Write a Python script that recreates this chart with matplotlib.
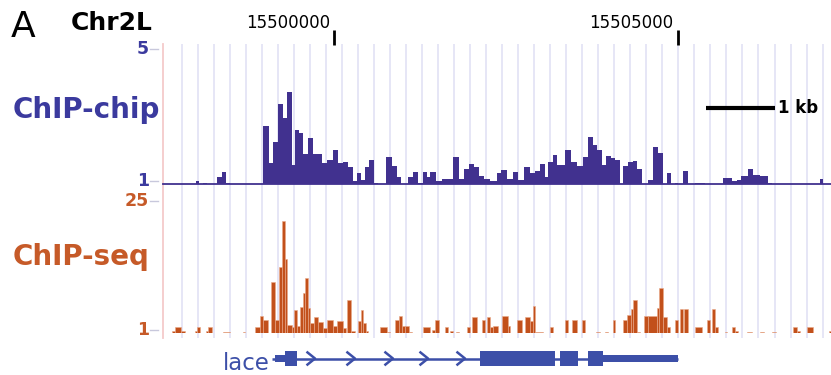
import matplotlib
matplotlib.use('Agg')
import matplotlib.pyplot as plt
import matplotlib.transforms as mtransforms

# ---------------- data (bp relative to chr2L:15,500,000) ----------------
ORIGIN = 15500000
chrom = "Chr2L"
view_start, view_end = -2488, 7231
axis_ticks = [0, 5000]
axis_tick_labels = ["15500000", "15505000"]

chip_start = [-2008, -1906, -1702, -1630, -1571, -1033, -946, -888, -815, -742, -684, -611, -567, -509,
              -451, -378, -306, -175, -102, -15, 58, 131, 204, 276, 335, 393, 451, 509, 582, 757, 844,
              917, 1077, 1149, 1222, 1295, 1353, 1397, 1484, 1571, 1731, 1819, 1892, 1964, 2037, 2110,
              2183, 2270, 2372, 2430, 2517, 2604, 2677, 2765, 2852, 2925, 2997, 3070, 3114, 3186, 3245,
              3361, 3448, 3536, 3623, 3696, 3768, 3827, 3899, 3958, 4030, 4089, 4205, 4278, 4350, 4409,
              4569, 4641, 4714, 4845, 4962, 5078, 5253, 5660, 5791, 5864, 5922, 6024, 6096, 6198, 6315,
              7071]
chip_end = [-1964, -1848, -1630, -1571, -1513, -946, -888, -815, -742, -684, -611, -567, -509, -451,
            -378, -306, -175, -102, -15, 58, 131, 204, 276, 335, 393, 451, 509, 582, 640, 844, 917,
            975, 1149, 1222, 1295, 1353, 1397, 1484, 1571, 1731, 1819, 1892, 1964, 2037, 2110, 2183,
            2270, 2372, 2430, 2517, 2604, 2677, 2765, 2852, 2925, 2997, 3070, 3114, 3186, 3245, 3361,
            3448, 3536, 3623, 3696, 3768, 3827, 3899, 3958, 4030, 4089, 4161, 4278, 4350, 4409, 4481,
            4641, 4714, 4787, 4903, 5005, 5151, 5398, 5791, 5864, 5922, 6024, 6096, 6198, 6315, 6373,
            7115]
chip_value = [1.09, 1.04, 1.22, 1.36, 1.03, 2.72, 1.62, 2.23, 3.37, 2.95, 3.73, 1.55, 2.6, 2.5, 1.9,
              2.35, 1.88, 1.63, 1.71, 2.0, 1.63, 1.65, 1.5, 1.1, 1.34, 1.12, 1.5, 1.71, 1.02, 1.81,
              1.53, 1.22, 1.22, 1.36, 1.04, 1.36, 1.22, 1.36, 1.1, 1.15, 1.81, 1.15, 1.44, 1.59, 1.5,
              1.24, 1.15, 1.1, 1.34, 1.4, 1.14, 1.36, 1.12, 1.49, 1.34, 1.39, 1.59, 1.22, 1.66, 1.85,
              1.56, 2.0, 1.66, 1.53, 1.79, 2.38, 2.16, 2.0, 1.56, 1.83, 1.76, 1.71, 1.53, 1.66, 1.68,
              1.44, 1.12, 2.1, 1.93, 1.33, 1.04, 1.39, 1.02, 1.18, 1.08, 1.12, 1.24, 1.43, 1.27, 1.24,
              1.02, 1.14]

seq_start = [-2357, -2313, -2226, -2022, -1993, -1862, -1833, -1615, -1324, -1149, -1077, -1033, -917,
             -858, -800, -757, -713, -684, -611, -582, -538, -495, -451, -422, -378, -349, -291, -233,
             -160, -102, -15, 44, 131, 189, 247, 349, 393, 422, 466, 669, 771, 888, 946, 989, 1033,
             1091, 1295, 1426, 1470, 1615, 1688, 1775, 1935, 2008, 2153, 2226, 2270, 2313, 2444, 2532,
             2663, 2779, 2852, 2895, 2925, 3143, 3361, 3463, 3608, 3812, 3943, 4059, 4205, 4263, 4321,
             4350, 4409, 4511, 4569, 4700, 4729, 4787, 4845, 4962, 5034, 5093, 5253, 5427, 5500, 5544,
             5689, 5791, 5835, 6009, 6198, 6373, 6678, 6737, 6882, 7202]
seq_end = [-2313, -2226, -2168, -1993, -1950, -1833, -1775, -1513, -1295, -1077, -1033, -960, -858,
           -800, -757, -713, -684, -611, -582, -538, -495, -451, -422, -378, -349, -291, -233, -160,
           -102, -15, 44, 131, 175, 247, 306, 393, 422, 466, 495, 771, 815, 946, 989, 1033, 1091,
           1135, 1397, 1470, 1528, 1659, 1731, 1819, 1979, 2081, 2197, 2270, 2313, 2386, 2532, 2561,
           2735, 2852, 2895, 2925, 3041, 3186, 3405, 3536, 3652, 3870, 3987, 4089, 4263, 4321, 4350,
           4409, 4452, 4569, 4700, 4729, 4787, 4845, 4889, 5005, 5078, 5151, 5354, 5471, 5544, 5587,
           5718, 5835, 5878, 6082, 6257, 6431, 6737, 6780, 6969, 7231]
seq_value = [1.3, 2.1, 1.3, 1.3, 2.1, 1.4, 2.1, 1.2, 1.2, 2.1, 4.1, 3.3, 10.0, 3.3, 12.7, 21.0, 14.1,
             2.4, 2.0, 5.1, 2.3, 5.7, 8.1, 10.8, 5.4, 2.7, 3.9, 3.0, 1.9, 3.3, 2.2, 3.2, 1.9, 6.9, 1.3,
             3.2, 5.1, 2.7, 1.4, 2.0, 1.2, 3.4, 4.0, 2.2, 2.2, 1.2, 2.1, 1.5, 3.3, 2.1, 1.3, 1.2, 2.1,
             3.9, 3.4, 3.8, 2.1, 2.3, 4.0, 2.3, 3.3, 3.9, 3.1, 5.8, 1.2, 2.1, 3.3, 3.3, 3.3, 1.2, 1.2,
             3.4, 3.3, 4.2, 5.2, 6.9, 1.2, 4.0, 4.0, 5.4, 9.0, 3.9, 2.1, 3.3, 5.2, 5.2, 2.1, 3.3, 5.2,
             2.0, 1.2, 2.1, 1.3, 1.2, 1.2, 1.2, 2.1, 1.4, 2.1, 1.3]

gene_name = "lace"
gene_tx = [-902, 5005]
gene_thick_start = [-713, 2124, 3288, 3696]
gene_thick_end = [-538, 3216, 3550, 3914]
gene_utr_start = [-858, 3914]
gene_utr_end = [-713, 5005]
gene_arrows = [-276, 305, 858, 1368, 1906]

chip_range = [1, 5]
seq_range = [1, 25]
scalebar_bp = 1000
scalebar_start = 5413

# ---------------- style ----------------
W, H = 831, 375
CHIP_C = '#41318f'
CHIP_LBL = '#3b3a9e'
SEQ_C = '#c2501b'
SEQ_LBL = '#c65a28'
GENE_C = '#3c4fa8'
GRID_C = '#e4e4f6'

fig = plt.figure(figsize=(W / 100, H / 100), dpi=100)


def fx(px):
    return px / W


def fy(py):
    return 1 - py / H


L, R = 163, 831


def make_axes(top, bottom):
    ax = fig.add_axes([fx(L), fy(bottom), (R - L) / W, (bottom - top) / H])
    ax.set_xlim(view_start, view_end)
    ax.patch.set_visible(False)
    for s in ax.spines.values():
        s.set_visible(False)
    ax.set_xticks([])
    return ax


def ylabels(ax, values, color, shifts):
    ax.set_yticks(values)
    ax.tick_params(axis='y', length=0, labelleft=False)
    yt = ax.get_yaxis_transform()
    for v, dy in zip(values, shifts):
        trd = mtransforms.offset_copy(yt, fig=fig, x=0, y=dy, units='dots')
        ax.plot([-13 / 668, -5 / 668], [v, v], transform=trd, color='#c8c8dc', lw=1,
                clip_on=False)
        tr = mtransforms.offset_copy(yt, fig=fig, x=-14, y=dy, units='dots')
        ax.text(0, v, str(v), transform=tr, ha='right', va='center', fontsize=12.5,
                fontweight='bold', color=color)


# background grid
ax_bg = make_axes(44, 338)
ax_bg.set_ylim(0, 1)
ax_bg.set_yticks([])
grid_step = 233.0
g = -2212.0
while g < view_end:
    ax_bg.axvline(g, color=GRID_C, lw=1.3, zorder=0)
    g += grid_step
ax_bg.axvline(view_start, color='#f5caca', lw=1.3, clip_on=False)

# ChIP-chip track
ax_c = make_axes(49, 184)
ax_c.set_ylim(*chip_range)
ax_c.bar(chip_start, [v - 1 for v in chip_value], width=[e - s for s, e in zip(chip_start, chip_end)],
         bottom=1, align='edge', color=CHIP_C, linewidth=0)
ax_c.axhline(1, color=CHIP_C, lw=1.3, clip_on=False)
ylabels(ax_c, chip_range, CHIP_LBL, [3, 0])

# ChIP-seq track
ax_s = make_axes(198, 333)
ax_s.set_ylim(*seq_range)
ax_s.bar(seq_start, [v - 1 for v in seq_value], width=[e - s for s, e in zip(seq_start, seq_end)],
         bottom=1, align='edge', color=SEQ_C, linewidth=0.4, edgecolor='#e9a98a')
ylabels(ax_s, seq_range, SEQ_LBL, [3, -3])

# coordinate ticks at the top
xt = ax_c.get_xaxis_transform()
for pos, lbl in zip(axis_ticks, axis_tick_labels):
    ax_c.plot([pos, pos], [(184 - 30) / 135, (184 - 45) / 135], color='black', lw=2,
              transform=xt, clip_on=False, solid_capstyle='butt')
    tr = mtransforms.offset_copy(xt, fig=fig, x=-4, y=0, units='dots')
    ax_c.text(pos, (184 - 28) / 135, lbl, transform=tr, ha='right', va='baseline',
              fontsize=12, color='black')

# scale bar
ysb = (184 - 108) / 135
ax_c.plot([scalebar_start, scalebar_start + scalebar_bp], [ysb, ysb], color='black', lw=3,
          transform=xt, clip_on=False, solid_capstyle='butt')
tr = mtransforms.offset_copy(xt, fig=fig, x=3, y=0, units='dots')
ax_c.text(scalebar_start + scalebar_bp, ysb, '1 kb', transform=tr, ha='left', va='center',
          fontsize=12, fontweight='bold', color='black')

# gene model
ax_g = make_axes(345, 372)
ax_g.set_ylim(-1, 1)
ax_g.set_yticks([])
ax_g.plot(gene_tx, [0, 0], color=GENE_C, lw=1.8, solid_capstyle='butt')
ax_g.bar(gene_thick_start, 1.04, width=[e - s for s, e in zip(gene_thick_start, gene_thick_end)],
         bottom=-0.52, align='edge', color=GENE_C, linewidth=0)
ax_g.bar(gene_utr_start, 0.56, width=[e - s for s, e in zip(gene_utr_start, gene_utr_end)],
         bottom=-0.28, align='edge', color=GENE_C, linewidth=0)
for a in gene_arrows:
    ax_g.plot([a - 110, a, a - 110], [0.45, 0, -0.45], color=GENE_C, lw=1.8)
trg = mtransforms.offset_copy(ax_g.transData, fig=fig, x=-2, y=0, units='dots')
ax_g.text(gene_tx[0], -0.85, gene_name, transform=trg, ha='right', va='baseline',
          fontsize=16.5, color=GENE_C)

# left labels and headers
fig.text(fx(13), fy(118), 'ChIP-chip', fontsize=20, fontweight='bold', color=CHIP_LBL,
         ha='left', va='baseline')
fig.text(fx(13), fy(265), 'ChIP-seq', fontsize=20, fontweight='bold', color=SEQ_LBL,
         ha='left', va='baseline')
fig.text(fx(11), fy(37), 'A', fontsize=26, color='black', ha='left', va='baseline')
fig.text(fx(71), fy(30), chrom, fontsize=18, fontweight='bold', color='black',
         ha='left', va='baseline')

fig.savefig('out.png', dpi=100)
